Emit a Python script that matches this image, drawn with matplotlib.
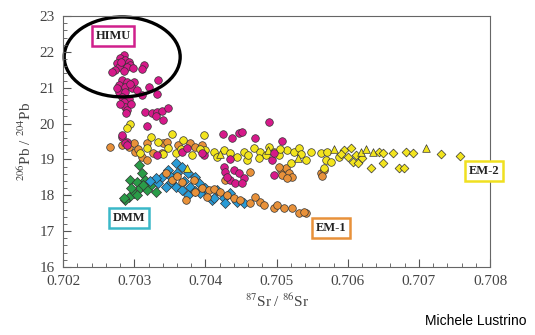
"""Sr-Pb isotope plot of mantle end-members (HIMU, EM-1, EM-2, DMM)."""

import matplotlib

matplotlib.use("Agg")

import matplotlib.pyplot as plt
from matplotlib.patches import Ellipse
from matplotlib.ticker import MultipleLocator

# HIMU - magenta circles
HIMU_SR = [0.70285, 0.70280, 0.70287, 0.70292, 0.70276, 0.70283, 0.70294, 0.70278, 0.70290, 0.70273,
           0.70268, 0.70285, 0.70313, 0.70311, 0.70298, 0.70282,
           0.70283, 0.70290, 0.70299, 0.70278, 0.70287, 0.70297, 0.70278, 0.70287, 0.70304, 0.70283,
           0.70292, 0.70285, 0.70287, 0.70290, 0.70320, 0.70332, 0.70334, 0.70311, 0.70276, 0.70294,
           0.70280, 0.70295, 0.70288,
           0.70315, 0.70325, 0.70332, 0.70339, 0.70348, 0.70330, 0.70341, 0.70318, 0.70283, 0.70290,
           0.70283, 0.70287, 0.70332, 0.70367, 0.70374, 0.70398, 0.70489, 0.70424, 0.70438, 0.70447,
           0.70452, 0.70470, 0.70508, 0.70435, 0.70426, 0.70427, 0.70440, 0.70447, 0.70454, 0.70435,
           0.70442, 0.70452, 0.70496, 0.70494, 0.70496, 0.70395, 0.70290, 0.70430]
HIMU_PB = [21.91, 21.82, 21.77, 21.73, 21.68, 21.63, 21.63, 21.59, 21.59, 21.49,
           21.43, 21.47, 21.63, 21.51, 21.55, 21.72,
           21.22, 21.17, 21.17, 21.08, 21.03, 20.98, 20.89, 20.89, 20.94, 20.75,
           20.70, 20.61, 20.47, 20.38, 21.03, 20.84, 21.22, 20.80, 20.98, 21.10,
           20.55, 20.55, 20.30,
           20.33, 20.29, 20.33, 20.36, 20.43, 20.21, 20.10, 19.93, 19.63, 19.50,
           19.68, 19.47, 19.12, 19.22, 19.31, 19.12, 20.05, 19.71, 19.59, 19.73,
           19.77, 19.59, 19.52, 19.00, 18.80, 18.66, 18.71, 18.61, 18.47, 18.43,
           18.33, 18.33, 18.57, 18.98, 19.17, 19.17, 19.40, 18.52]

# EM-2 - yellow circles, diamonds, triangles
EM2_CIRCLE_SR = [0.70294, 0.70290, 0.70323, 0.70353, 0.70334, 0.70348, 0.70369, 0.70398, 0.70308, 0.70318,
                 0.70358, 0.70381, 0.70400, 0.70412, 0.70426, 0.70435, 0.70454, 0.70468, 0.70477, 0.70489,
                 0.70496, 0.70503, 0.70515, 0.70524, 0.70531, 0.70541, 0.70520, 0.70416, 0.70459, 0.70445,
                 0.70485, 0.70562, 0.70571, 0.70569, 0.70576, 0.70588, 0.70567, 0.70340, 0.70365, 0.70392,
                 0.70505, 0.70535, 0.70548, 0.70460, 0.70475]
EM2_CIRCLE_PB = [19.99, 19.87, 19.63, 19.71, 19.50, 19.31, 19.54, 19.68, 19.17, 19.31,
                 19.17, 19.12, 19.26, 19.22, 19.26, 19.17, 19.22, 19.31, 19.22, 19.36,
                 19.22, 19.12, 19.26, 19.22, 19.31, 18.98, 18.89, 19.08, 18.98, 19.08,
                 19.12, 19.17, 19.22, 18.98, 18.94, 19.08, 18.75, 19.15, 19.30, 19.30,
                 19.28, 19.15, 19.20, 19.12, 19.05]
EM2_DIAMOND_SR = [0.70595, 0.70604, 0.70611, 0.70600, 0.70607, 0.70614, 0.70632, 0.70644, 0.70649, 0.70663,
                  0.70649, 0.70672, 0.70679, 0.70682, 0.70691, 0.70731, 0.70758, 0.70590, 0.70620]
EM2_DIAMOND_PB = [19.26, 19.31, 19.12, 19.08, 18.94, 18.89, 18.75, 19.22, 19.17, 19.19,
                  18.89, 18.75, 18.75, 19.22, 19.19, 19.15, 19.10, 19.15, 19.05]
EM2_TRIANGLE_SR = [0.70618, 0.70635, 0.70710, 0.70374, 0.70580, 0.70625, 0.70530, 0.70420, 0.70488]
EM2_TRIANGLE_PB = [19.22, 19.22, 19.31, 18.75, 19.28, 19.28, 19.05, 19.15, 19.25]

# EM-1 - orange circles
EM1_SR = [0.70266, 0.70283, 0.70292, 0.70299, 0.70301, 0.70311, 0.70318, 0.70327, 0.70341, 0.70346,
          0.70362, 0.70379, 0.70386, 0.70318, 0.70339, 0.70305, 0.70395,
          0.70353, 0.70367, 0.70384, 0.70386, 0.70395, 0.70405, 0.70372, 0.70402, 0.70412, 0.70421,
          0.70430, 0.70440, 0.70449, 0.70463, 0.70477, 0.70482, 0.70496, 0.70501, 0.70510, 0.70522,
          0.70531, 0.70541, 0.70538, 0.70428, 0.70463, 0.70506, 0.70513, 0.70517, 0.70508, 0.70522,
          0.70515, 0.70503, 0.70562, 0.70567, 0.70564, 0.70360, 0.70345, 0.70470]
EM1_PB = [19.36, 19.40, 19.36, 19.45, 19.22, 19.08, 19.45, 19.17, 19.45, 19.50,
          19.40, 19.45, 19.36, 18.98, 19.17, 19.30, 19.40,
          18.43, 18.38, 18.43, 18.10, 18.19, 18.15, 17.87, 17.96, 18.17, 18.10,
          18.01, 17.92, 17.87, 17.78, 17.82, 17.73, 17.64, 17.73, 17.64, 17.64,
          17.50, 17.50, 17.54, 18.43, 18.66, 18.71, 18.75, 18.61, 18.57, 18.52,
          18.47, 18.80, 18.61, 18.71, 18.55, 18.55, 18.62, 17.95]

# blue diamonds
BLUE_SR = [0.70358, 0.70367, 0.70348, 0.70360, 0.70376, 0.70339, 0.70351, 0.70334, 0.70344, 0.70358,
           0.70367, 0.70379, 0.70376, 0.70391, 0.70393, 0.70409, 0.70330, 0.70386, 0.70412, 0.70416,
           0.70426, 0.70435, 0.70428, 0.70445, 0.70454, 0.70352, 0.70370, 0.70400, 0.70385, 0.70322]
BLUE_PB = [18.89, 18.80, 18.71, 18.61, 18.61, 18.52, 18.38, 18.33, 18.24, 18.24,
           18.15, 18.24, 18.01, 18.33, 18.06, 17.87, 18.47, 18.52, 17.92, 18.15,
           17.92, 18.06, 17.78, 17.82, 17.78, 18.50, 18.40, 18.20, 18.12, 18.40]

# DMM - green diamonds
DMM_SR = [0.70306, 0.70311, 0.70294, 0.70304, 0.70315, 0.70323, 0.70308, 0.70318, 0.70299, 0.70292,
          0.70287, 0.70304, 0.70330, 0.70285, 0.70312, 0.70296]
DMM_PB = [18.85, 18.61, 18.43, 18.38, 18.43, 18.29, 18.19, 18.15, 18.06, 17.96,
          17.87, 18.01, 18.10, 17.92, 18.30, 18.20]

LABELS = [("HIMU", 0.70270, 22.44, "#d0208c"),
          ("DMM", 0.70292, 17.37, "#3ab8c8"),
          ("EM-1", 0.70576, 17.09, "#e8913a"),
          ("EM-2", 0.70792, 18.68, "#f0e020")]

plt.rcParams["font.family"] = "Liberation Serif"
plt.rcParams["mathtext.fontset"] = "stix"

fig = plt.figure(figsize=(5.35, 3.35), dpi=100)
ax = fig.add_axes([0.118, 0.203, 0.798, 0.749])

edge = dict(edgecolor="#333333", linewidths=0.5)
ax.scatter(DMM_SR, DMM_PB, s=26, marker="D", color="#2a9c48", **edge)
ax.scatter(BLUE_SR, BLUE_PB, s=26, marker="D", color="#2a9bd6", **edge)
ax.scatter(EM1_SR, EM1_PB, s=30, marker="o", color="#e8913a", **edge)
ax.scatter(EM2_CIRCLE_SR, EM2_CIRCLE_PB, s=30, marker="o", color="#f2e41e", **edge)
ax.scatter(EM2_DIAMOND_SR, EM2_DIAMOND_PB, s=20, marker="D", color="#f2e41e", **edge)
ax.scatter(EM2_TRIANGLE_SR, EM2_TRIANGLE_PB, s=30, marker="^", color="#f2e41e", **edge)
ax.scatter(HIMU_SR, HIMU_PB, s=30, marker="o", color="#d6198a", **edge)

for text, x, y, col in LABELS:
    ax.text(x, y, text, ha="center", va="center", fontsize=9, fontweight="bold", color="#222222",
            bbox=dict(boxstyle="square,pad=0.3", facecolor="white", edgecolor=col, linewidth=1.8))

ax.add_patch(Ellipse((0.70283, 21.86), 0.00163, 2.23, fill=False, edgecolor="black",
                     linewidth=2.4, clip_on=False))

ax.set_xlim(0.702, 0.708)
ax.set_ylim(16, 23)
ax.xaxis.set_major_locator(MultipleLocator(0.001))
ax.xaxis.set_minor_locator(MultipleLocator(0.0002))
ax.yaxis.set_major_locator(MultipleLocator(1))
ax.yaxis.set_minor_locator(MultipleLocator(0.2))
ax.xaxis.set_major_formatter(lambda v, p: f"{v:.3f}")
ax.tick_params(which="both", direction="in", top=False, right=False, labelsize=11,
               color="#555555", labelcolor="#444444")
ax.tick_params(which="major", length=6, width=0.8)
ax.tick_params(which="minor", length=3, width=0.6)
ax.tick_params(axis="x", which="major", pad=6)
ax.tick_params(axis="y", which="major", pad=6)
for spine in ax.spines.values():
    spine.set_color("#666666")

ax.set_xlabel("$^{87}$Sr / $^{86}$Sr", fontsize=11, color="#444444", labelpad=3)
ax.set_ylabel("$^{206}$Pb / $^{204}$Pb", fontsize=11, color="#444444")

fig.text(0.985, 0.02, "Michele Lustrino", ha="right", va="bottom", fontsize=10,
         family="Liberation Sans", color="black")

fig.savefig("out.png", dpi=100)
plt.close(fig)
